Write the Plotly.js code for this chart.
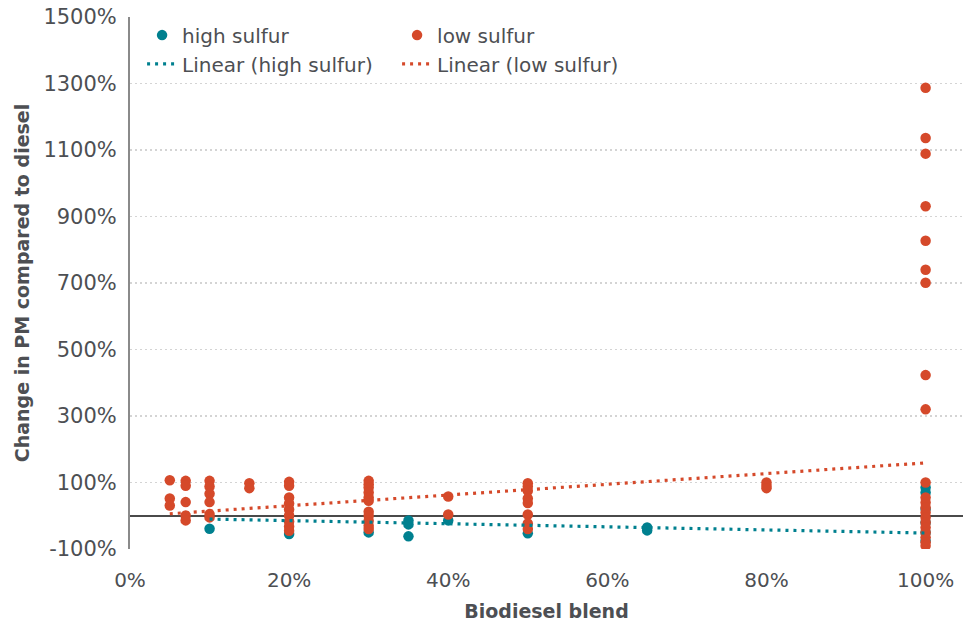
<!DOCTYPE html>
<html>
<head>
<meta charset="utf-8">
<script src="https://cdn.plot.ly/plotly-3.0.1.min.js"></script>
<style>
  html, body { margin: 0; padding: 0; background: #ffffff; }
  #chart { width: 966px; height: 625px; }
</style>
</head>
<body>
<div id="chart"></div>
<script>
// ---- Data ----
// Biodiesel blend share (fraction) and change in PM (%), high sulfur fuel
const highX = [0.10, 0.20, 0.30, 0.35, 0.35, 0.35, 0.40, 0.50, 0.65, 0.65,
               1.00, 1.00, 1.00, 1.00, 1.00, 1.00];
const highY = [-39, -55, -50, -14, -26, -62, -14, -53, -35, -44,
               85, 70, 20, -20, -50, -75];

// Low sulfur fuel
const lowX = [0.05, 0.05, 0.05,
              0.07, 0.07, 0.07, 0.07, 0.07,
              0.10, 0.10, 0.10, 0.10, 0.10, 0.10,
              0.15, 0.15,
              0.20, 0.20, 0.20, 0.20, 0.20, 0.20, 0.20, 0.20, 0.20,
              0.30, 0.30, 0.30, 0.30, 0.30, 0.30, 0.30, 0.30, 0.30, 0.30, 0.30,
              0.40, 0.40,
              0.50, 0.50, 0.50, 0.50, 0.50, 0.50, 0.50, 0.50,
              0.80, 0.80, 0.80,
              1.00, 1.00, 1.00, 1.00, 1.00, 1.00, 1.00, 1.00, 1.00,
              1.00, 1.00, 1.00, 1.00, 1.00, 1.00, 1.00, 1.00, 1.00, 1.00, 1.00, 1.00];
const lowY = [107, 52, 31,
              105, 90, 41, 1, -14,
              105, 88, 66, 41, 5, -5,
              98, 83,
              102, 90, 55, 37, 19, 1, -17, -32, -45,
              105, 95, 85, 70, 55, 45, 12, 0, -15, -30, -40,
              58, 4,
              98, 88, 75, 52, 38, 4, -23, -40,
              100, 90, 83,
              1287, 1136, 1089, 931, 827, 740, 701, 423, 320,
              100, 55, 40, 25, 10, -5, -20, -35, -50, -65, -80, -90];

// Linear trend lines (end points)
const trendHighX = [0.10, 1.00];
const trendHighY = [-10, -52];
const trendLowX = [0.05, 1.00];
const trendLowY = [6, 159];

// Axis ticks
const yTickVals = [-100, 100, 300, 500, 700, 900, 1100, 1300, 1500];
const yTickText = ['-100%', '100%', '300%', '500%', '700%', '900%', '1100%', '1300%', '1500%'];
const xTickVals = [0, 0.2, 0.4, 0.6, 0.8, 1.0];
const xTickText = ['0%', '20%', '40%', '60%', '80%', '100%'];

const seriesNames = ['high sulfur', 'low sulfur', 'Linear (high sulfur)', 'Linear (low sulfur)'];

// ---- Styling ----
const TEAL = '#00808f';
const ORANGE = '#d5492a';
const TXT = '#4d4f53';
const FONT = 'DejaVu Sans, Open Sans, sans-serif';

const traces = [
  { x: highX, y: highY, type: 'scatter', mode: 'markers', name: seriesNames[0],
    marker: { color: TEAL, size: 10.5 }, legend: 'legend' },
  { x: lowX, y: lowY, type: 'scatter', mode: 'markers', name: seriesNames[1],
    marker: { color: ORANGE, size: 10.5 }, legend: 'legend' },
  { x: trendHighX, y: trendHighY, type: 'scatter', mode: 'lines', name: seriesNames[2],
    line: { color: TEAL, width: 3.2, dash: '3px,5px' }, legend: 'legend2' },
  { x: trendLowX, y: trendLowY, type: 'scatter', mode: 'lines', name: seriesNames[3],
    line: { color: ORANGE, width: 3.2, dash: '3px,5px' }, legend: 'legend2' }
];

const legendCommon = {
  orientation: 'h', xanchor: 'left', yanchor: 'middle',
  entrywidth: 210, entrywidthmode: 'pixels',
  font: { family: FONT, size: 20, color: TXT },
  bgcolor: 'rgba(0,0,0,0)', borderwidth: 0, itemclick: false
};

const layout = {
  width: 966, height: 625,
  margin: { l: 130, r: 3, t: 17, b: 76 },
  paper_bgcolor: '#ffffff', plot_bgcolor: '#ffffff',
  font: { family: FONT, color: TXT },
  showlegend: true,
  legend: Object.assign({}, legendCommon, { x: 0.0145, y: 0.966 }),
  legend2: Object.assign({}, legendCommon, { x: 0.0145, y: 0.912 }),
  xaxis: {
    range: [0, 1.047],
    tickvals: xTickVals, ticktext: xTickText,
    tickfont: { family: FONT, size: 20, color: TXT },
    showgrid: false, zeroline: false, showline: false, ticks: '',
    ticklabelstandoff: 17,
    title: { text: 'Biodiesel blend', font: { family: FONT, size: 19, color: TXT, weight: 'bold' }, standoff: 13 }
  },
  yaxis: {
    range: [-100, 1500],
    tickvals: yTickVals, ticktext: yTickText,
    tickfont: { family: FONT, size: 21, color: TXT },
    showgrid: true, gridcolor: '#d4d4d4', gridwidth: 1.5, griddash: '2px,3px',
    zeroline: true, zerolinecolor: '#4a4a4a', zerolinewidth: 1.5,
    showline: true, linecolor: '#8a8a8a', linewidth: 2, ticks: '',
    ticklabelstandoff: 7,
    title: { text: 'Change in PM compared to diesel', font: { family: FONT, size: 19, color: TXT, weight: 'bold' }, standoff: 9 }
  }
};

Plotly.newPlot('chart', traces, layout, { displayModeBar: false, staticPlot: true });
</script>
</body>
</html>
